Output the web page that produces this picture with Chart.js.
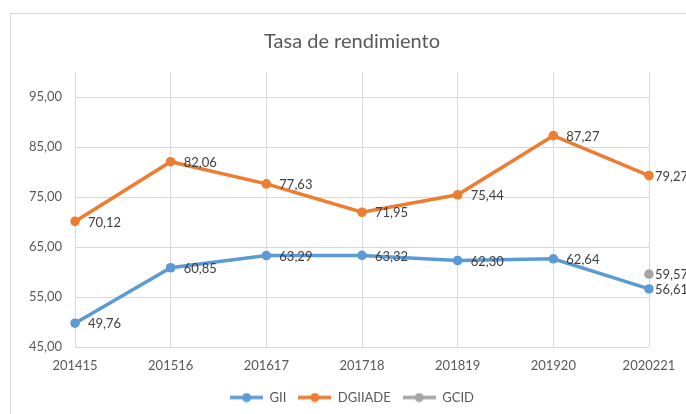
<!DOCTYPE html>
<html><head><meta charset="utf-8">
<script src="https://cdn.jsdelivr.net/npm/chart.js@4/dist/chart.umd.min.js"></script>
<style>html,body{margin:0;padding:0;background:#fff}#wrap{width:686px;height:414px;position:relative}</style>
</head><body><div id="wrap"><canvas id="c" width="686" height="414"></canvas></div>
<script>
const categories = ['201415','201516','201617','201718','201819','201920','2020221'];
const gii = [49.76, 60.85, 63.29, 63.32, 62.30, 62.64, 56.61];
const dgiiade = [70.12, 82.06, 77.63, 71.95, 75.44, 87.27, 79.27];
const gcid = [null, null, null, null, null, null, 59.57];
const yTicks = [45, 55, 65, 75, 85, 95];
const seriesNames = ['GII', 'DGIIADE', 'GCID'];
const colors = ['#5B9BD5', '#ED7D31', '#A5A5A5'];

const FONT = 'Lato';
const fmt = v => v.toFixed(2).replace('.', ',');

function makeIcon(color) {
  const c = document.createElement('canvas');
  c.width = 33; c.height = 10;
  const x = c.getContext('2d');
  x.strokeStyle = color; x.lineWidth = 3.5;
  x.beginPath(); x.moveTo(0, 5); x.lineTo(33, 5); x.stroke();
  x.fillStyle = color; x.beginPath(); x.arc(16.5, 5, 4.5, 0, Math.PI * 2); x.fill();
  return c;
}
const icons = colors.map(makeIcon);

const borderPlugin = {
  id: 'frame',
  beforeDraw(chart) {
    const ctx = chart.ctx;
    ctx.save();
    ctx.fillStyle = '#fff'; ctx.fillRect(0, 0, chart.width, chart.height);
    ctx.strokeStyle = '#d9d9d9'; ctx.lineWidth = 1;
    ctx.strokeRect(10.5, 13.5, 720, 450);
    ctx.restore();
  }
};

const labelPlugin = {
  id: 'valueLabels',
  afterDatasetsDraw(chart) {
    const ctx = chart.ctx;
    ctx.save();
    ctx.font = '13px ' + FONT;
    ctx.fillStyle = '#404040';
    ctx.textBaseline = 'middle';
    ctx.textAlign = 'left';
    chart.data.datasets.forEach((ds, di) => {
      const meta = chart.getDatasetMeta(di);
      meta.data.forEach((pt, i) => {
        const v = ds.data[i];
        if (v == null) return;
        const off = i === ds.data.length - 1 ? 6 : 13;
        ctx.fillText(fmt(v), pt.x + off, pt.y + 1);
      });
    });
    ctx.restore();
  }
};

const seriesData = [gii, dgiiade, gcid];
new Chart(document.getElementById('c'), {
  type: 'line',
  data: {
    labels: categories,
    datasets: seriesData.map((d, i) => ({
      label: seriesNames[i],
      data: d,
      borderColor: colors[i],
      backgroundColor: colors[i],
      borderWidth: 3.5,
      pointRadius: 4.8,
      pointHoverRadius: 4.8,
      pointBackgroundColor: colors[i],
      pointBorderWidth: 0,
      tension: 0,
      spanGaps: false
    }))
  },
  options: {
    responsive: false,
    animation: false,
    layout: { padding: { left: 18, right: 0, top: 0, bottom: 0 } },
    plugins: {
      tooltip: { enabled: false },
      title: {
        display: true,
        text: 'Tasa de rendimiento',
        color: '#595959',
        font: { family: FONT, size: 20, weight: 'normal' },
        padding: { top: 30, bottom: 18 }
      },
      legend: {
        position: 'bottom',
        labels: {
          usePointStyle: true,
          pointStyleWidth: 33,
          padding: 12,
          color: '#595959',
          font: { family: FONT, size: 13 },
          generateLabels(chart) {
            return chart.data.datasets.map((ds, i) => ({
              text: ds.label,
              pointStyle: icons[i],
              fillStyle: colors[i],
              strokeStyle: colors[i],
              lineWidth: 0,
              fontColor: '#595959',
              hidden: false,
              datasetIndex: i
            }));
          }
        }
      }
    },
    scales: {
      x: {
        offset: false,
        grid: { display: true, color: '#d9d9d9', drawTicks: false, lineWidth: 1 },
        border: { display: false },
        ticks: { color: '#595959', font: { family: FONT, size: 13 }, padding: 11, maxRotation: 0, autoSkip: false },
        afterFit(s) { s.height = 32; s.paddingLeft = 0; s.paddingRight = 37; }
      },
      y: {
        min: 45,
        max: 100,
        afterBuildTicks(s) { s.ticks = yTicks.map(v => ({ value: v })); },
        grid: { color: '#d9d9d9', drawTicks: false, lineWidth: 1 },
        border: { display: false },
        ticks: { color: '#595959', font: { family: FONT, size: 13 }, padding: 13, callback: v => fmt(v) },
        afterFit(s) { s.width = 57; s.paddingTop = 0; s.paddingBottom = 0; }
      }
    }
  },
  plugins: [borderPlugin, labelPlugin]
});
</script>
</body></html>
